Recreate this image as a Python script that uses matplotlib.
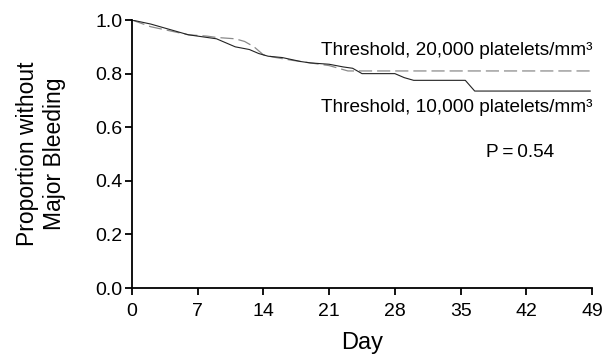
import matplotlib
matplotlib.use("Agg")
import matplotlib.pyplot as plt

plt.rcParams["font.family"] = ["Liberation Sans", "DejaVu Sans"]

# Kaplan-Meier style curves
days_10k = [0, 2, 4, 6, 8, 9, 10, 11, 12.5, 13.5, 14.5, 16, 18, 19, 21, 22.5, 23.5,
            24.5, 28, 29, 30, 35.5, 36.5, 48.8]
surv_10k = [1.0, 0.985, 0.965, 0.945, 0.935, 0.93, 0.915, 0.90, 0.89, 0.875, 0.865,
            0.86, 0.845, 0.84, 0.835, 0.825, 0.82, 0.80, 0.80, 0.785, 0.775, 0.775,
            0.735, 0.735]

days_20k = [0, 2, 4, 6, 8, 9, 11, 12, 13, 14, 15, 17, 19, 21, 22, 23, 48.8]
surv_20k = [1.0, 0.975, 0.96, 0.945, 0.94, 0.935, 0.93, 0.92, 0.90, 0.87, 0.862,
            0.85, 0.84, 0.83, 0.82, 0.81, 0.81]

x_ticks = [0, 7, 14, 21, 28, 35, 42, 49]
y_ticks = [0.0, 0.2, 0.4, 0.6, 0.8, 1.0]

fig = plt.figure(figsize=(6.11, 3.54), dpi=100)
ax = fig.add_axes([0.216, 0.1864, 0.753, 0.757])

ax.plot(days_20k, surv_20k, color="#8a8a8a", lw=0.9, dashes=(10.5, 4))
ax.plot(days_10k, surv_10k, color="#222222", lw=0.8)

ax.set_xlim(0, 49)
ax.set_ylim(0, 1.0)
ax.set_xticks(x_ticks)
ax.set_yticks(y_ticks)
ax.set_yticklabels([f"{v:.1f}" for v in y_ticks])
for s in ("top", "right"):
    ax.spines[s].set_visible(False)
for s in ("left", "bottom"):
    ax.spines[s].set_linewidth(1.3)
ax.tick_params(direction="out", length=5, width=1.3, labelsize=14)
ax.tick_params(axis="x", pad=5.5)
ax.tick_params(axis="y", pad=2)

ax.set_xlabel("Day", fontsize=17, labelpad=9)
ax.set_ylabel("Proportion without\nMajor Bleeding", fontsize=16.5, labelpad=21, linespacing=1.2)

ax.text(49, 0.888, "Threshold, 20,000 platelets/mm\u00b3", ha="right", va="center", fontsize=13.7)
ax.text(49, 0.672, "Threshold, 10,000 platelets/mm\u00b3", ha="right", va="center", fontsize=13.7)
ax.text(41.3, 0.507, "P\u2009=\u20090.54", ha="center", va="center", fontsize=13.7)

fig.savefig("out.png", dpi=100)
